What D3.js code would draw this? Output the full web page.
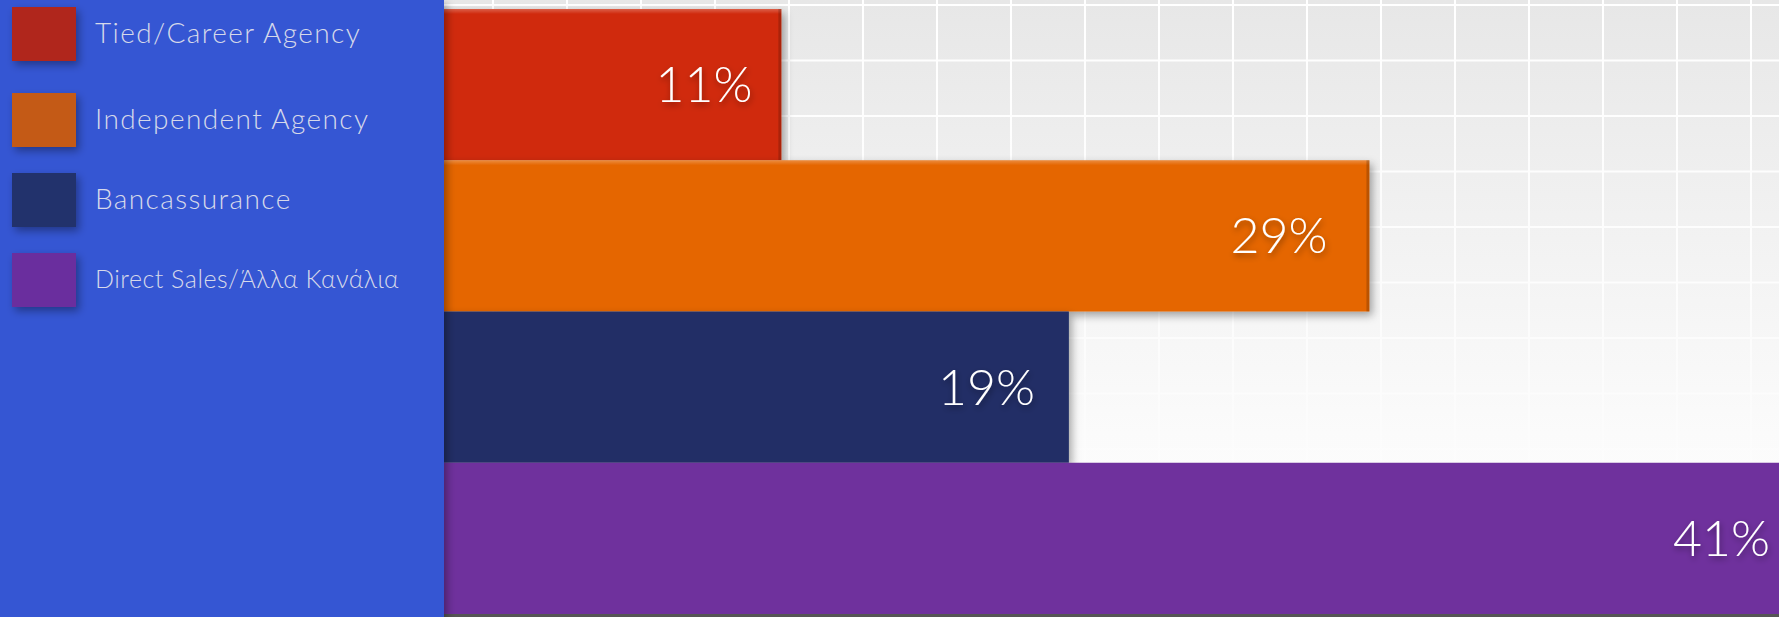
<!DOCTYPE html>
<html>
<head>
<meta charset="utf-8">
<script src="https://cdn.jsdelivr.net/npm/d3@7.9.0/dist/d3.min.js"></script>
<style>
  html, body { margin: 0; padding: 0; background: #fff; overflow: hidden; }
  svg { display: block; }
  .legend-text { font-family: Lato, "Open Sans", sans-serif; font-weight: 300; }
  .bar-label { font-family: Lato, "Open Sans", sans-serif; font-weight: 300; }
</style>
</head>
<body>
<svg id="chart"></svg>
<script>
// distribution channels and their shares
const channels = ["Tied/Career Agency", "Independent Agency", "Bancassurance", "Direct Sales/Άλλα Κανάλια"];
const shareLabels = ["11%", "29%", "19%", "41%"];
// bar lengths as drawn in the picture
const barValues = [11, 29, 19.8, 41.6];
const barColors = ["#d0290f", "#e56606", "#202e66", "#6f319d"];
const swatchColors = ["#b0261e", "#c45a14", "#22306c", "#6a2f9e"];

const width = 1779, height = 617;
const panelW = 444;
const labelPad = [29, 42, 34, 11];

const svg = d3.select("#chart").attr("width", width).attr("height", height);
const defs = svg.append("defs");

// background gradient
let bg = defs.append("linearGradient").attr("id", "bg").attr("x1", 0).attr("y1", 0).attr("x2", 0).attr("y2", 1);
bg.append("stop").attr("offset", "0%").attr("stop-color", "#e7e7e7");
bg.append("stop").attr("offset", "70%").attr("stop-color", "#fbfbfb");
bg.append("stop").attr("offset", "100%").attr("stop-color", "#ffffff");

let fade = defs.append("linearGradient").attr("id", "fade").attr("x1", 0).attr("y1", 0).attr("x2", 0).attr("y2", 1);
fade.append("stop").attr("offset", "0%").attr("stop-color", "#fff").attr("stop-opacity", 1);
fade.append("stop").attr("offset", "45%").attr("stop-color", "#fff").attr("stop-opacity", 0.8);
fade.append("stop").attr("offset", "80%").attr("stop-color", "#fff").attr("stop-opacity", 0.15);
fade.append("stop").attr("offset", "100%").attr("stop-color", "#fff").attr("stop-opacity", 0);
defs.append("mask").attr("id", "gridMask")
  .append("rect").attr("width", width).attr("height", height).attr("fill", "url(#fade)");

let shadow = defs.append("filter").attr("id", "shadow").attr("x", "-10%").attr("y", "-20%").attr("width", "130%").attr("height", "150%");
shadow.append("feDropShadow").attr("dx", 3).attr("dy", 4).attr("stdDeviation", 4)
  .attr("flood-color", "#000").attr("flood-opacity", 0.35);

let txtShadow = defs.append("filter").attr("id", "txtShadow").attr("x", "-20%").attr("y", "-20%").attr("width", "140%").attr("height", "160%");
txtShadow.append("feDropShadow").attr("dx", 1).attr("dy", 3).attr("stdDeviation", 3)
  .attr("flood-color", "#000").attr("flood-opacity", 0.4);

let bevelTop = defs.append("linearGradient").attr("id", "bevelTop").attr("x1", 0).attr("y1", 0).attr("x2", 0).attr("y2", 1);
bevelTop.append("stop").attr("offset", "0%").attr("stop-color", "#fff").attr("stop-opacity", 0.25);
bevelTop.append("stop").attr("offset", "100%").attr("stop-color", "#fff").attr("stop-opacity", 0);

svg.append("rect").attr("width", width).attr("height", height).attr("fill", "url(#bg)");

// decorative grid
const gridX = d3.range(493 - 74 * 6, width, 74);
const gridY = d3.range(5, height, 55.5);
const grid = svg.append("g").attr("mask", "url(#gridMask)");
grid.append("g").selectAll("line").data(gridX).join("line")
  .attr("x1", d => d).attr("x2", d => d).attr("y1", 0).attr("y2", height)
  .attr("stroke", "#fff").attr("stroke-width", 2);
grid.append("g").selectAll("line").data(gridY).join("line")
  .attr("x1", 0).attr("x2", width).attr("y1", d => d).attr("y2", d => d)
  .attr("stroke", "#fff").attr("stroke-width", 2);

const x = d3.scaleLinear().domain([0, 42]).range([422, 422 + 42 * 32.67]);
const y = d3.scaleBand().domain(channels).range([9, 614]).padding(0);

svg.append("rect").attr("x", 0).attr("y", 614).attr("width", width).attr("height", 3).attr("fill", "#555");

const bars = svg.append("g").selectAll("g").data(channels).join("g");

bars.append("rect")
  .attr("x", x(0))
  .attr("y", d => y(d))
  .attr("width", (d, i) => x(barValues[i]) - x(0))
  .attr("height", y.bandwidth())
  .attr("fill", (d, i) => barColors[i])
  .attr("filter", (d, i) => i < 3 ? "url(#shadow)" : null);

// bevel highlights on the first two bars
bars.filter((d, i) => i < 2).append("rect")
  .attr("x", x(0))
  .attr("y", d => y(d))
  .attr("width", (d) => x(barValues[channels.indexOf(d)]) - x(0))
  .attr("height", 5)
  .attr("fill", "url(#bevelTop)");
bars.filter((d, i) => i < 2).append("rect")
  .attr("x", d => x(barValues[channels.indexOf(d)]) - 3)
  .attr("y", d => y(d))
  .attr("width", 3)
  .attr("height", y.bandwidth())
  .attr("fill", "#000").attr("opacity", 0.18);

bars.append("text")
  .attr("class", "bar-label")
  .attr("x", (d, i) => x(barValues[i]) - labelPad[i])
  .attr("y", d => y(d) + y.bandwidth() / 2)
  .attr("dy", "0.35em")
  .attr("text-anchor", "end")
  .attr("fill", "#fff")
  .attr("font-size", 50)
  .attr("filter", "url(#txtShadow)")
  .text((d, i) => shareLabels[i]);

// legend panel
svg.append("rect").attr("x", 0).attr("y", 0).attr("width", panelW).attr("height", height)
  .attr("fill", "#3556d3").attr("filter", "url(#shadow)");

const legendY = [7, 93, 173, 253];
const legend = svg.append("g").selectAll("g").data(channels).join("g")
  .attr("transform", (d, i) => `translate(12,${legendY[i]})`);
legend.append("rect").attr("width", 64).attr("height", 54)
  .attr("fill", (d, i) => swatchColors[i]).attr("filter", "url(#shadow)");
legend.append("text")
  .attr("class", "legend-text")
  .attr("x", 83).attr("y", (d, i) => i === 3 ? 35 : 36)
  .attr("fill", "#d6d9ea")
  .attr("font-size", (d, i) => i === 3 ? 25 : 28)
  .attr("letter-spacing", (d, i) => i === 3 ? 0.5 : 1.4)
  .text(d => d);
</script>
</body>
</html>
